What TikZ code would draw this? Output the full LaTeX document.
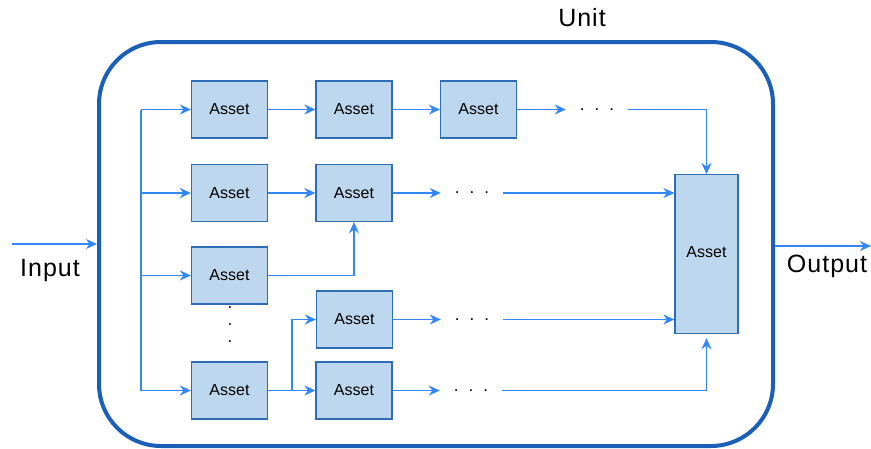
\documentclass[tikz,border=0pt]{standalone}
\usepackage{fontspec}
\setmainfont{Liberation Sans}
\usetikzlibrary{arrows.meta}
\definecolor{boxfill}{HTML}{BDD7EE}
\definecolor{boxline}{HTML}{2E6DB4}
\definecolor{conncol}{HTML}{3388F5}
\definecolor{unitcol}{HTML}{1B5FB8}
\tikzset{
  asset/.style={draw=boxline, fill=boxfill, line width=1.2pt, minimum width=76pt, minimum height=57pt, inner sep=0pt, font=\fontsize{16}{19}\selectfont},
  conn/.style={draw=conncol, line width=1.4pt},
  arr/.style={conn, -{Stealth[length=11pt, width=10pt, inset=3.5pt]}},
  dotsnode/.style={minimum width=62pt, inner sep=0pt, font=\fontsize{17}{19}\selectfont},
  biglabel/.style={font=\fontsize{25}{29}\selectfont\addfontfeature{LetterSpace=4}}
}
\begin{document}
\begin{tikzpicture}[x=1pt, y=-1pt]
\useasboundingbox (0,0) rectangle (871,448);
% unit
\node[draw=unitcol, line width=4pt, rounded corners=62pt, minimum width=674pt, minimum height=404pt, inner sep=0pt] (unit) at (436,244) {};
\node[biglabel] (unitlbl) at (582,18) {Unit};
% assets
\node[asset] (A11) at (229.5,109.5) {Asset};
\node[asset] (A12) at (354,109.5) {Asset};
\node[asset] (A13) at (478.5,109.5) {Asset};
\node[asset] (A21) at (229.5,193) {Asset};
\node[asset] (A22) at (354,193) {Asset};
\node[asset] (A31) at (229.5,275.5) {Asset};
\node[asset] (A41) at (354.5,319.5) {Asset};
\node[asset] (A51) at (229.5,390.5) {Asset};
\node[asset] (A52) at (354,390.5) {Asset};
\node[asset, minimum width=63pt, minimum height=159pt, anchor=north] (B) at (706.5,174) {};
\node[font=\fontsize{16}{19}\selectfont] (Blbl) at (706.5,252) {Asset};
% dots
\node[dotsnode] (d1) at (597,109.5) {.\hspace{10pt}.\hspace{10pt}.};
\node[dotsnode] (d2) at (472,193) {.\hspace{10pt}.\hspace{10pt}.};
\node[dotsnode] (d4) at (472,319.5) {.\hspace{10pt}.\hspace{10pt}.};
\node[dotsnode] (d5) at (471,390.5) {.\hspace{10pt}.\hspace{10pt}.};
\node[font=\fontsize{17}{17}\selectfont, align=center, inner sep=0pt] (vd) at (230,325) {.\\.\\.};
% input / output
\coordinate (inS) at (12,244);
\node[biglabel] (inlbl) at (50,270) {Input};
\coordinate (outE) at (871,246);
\node[biglabel] (outlbl) at (827,266) {Output};
\draw[arr] (inS) -- (unit.west);
\draw[arr] (unit.east |- outE) -- (outE);
% trunk
\coordinate (tr) at (141,0);
\draw[conn] (A11.west -| tr) -- (A51.west -| tr);
\draw[arr] (A11.west -| tr) -- (A11.west);
\draw[arr] (A21.west -| tr) -- (A21.west);
\draw[arr] (A31.west -| tr) -- (A31.west);
\draw[arr] (A51.west -| tr) -- (A51.west);
% row 1
\draw[arr] (A11) -- (A12);
\draw[arr] (A12) -- (A13);
\draw[arr] (A13) -- (d1.west);
\draw[arr] (d1.east) -| (B.north);
% row 2
\draw[arr] (A21) -- (A22);
\draw[arr] (A22) -- (d2.west);
\draw[arr] (d2.east) -- (d2.east -| B.west);
% row 3
\draw[arr] (A31.east) -| (A22.south);
% rows 4/5
\coordinate (sp) at (292,0);
\draw[arr] (A51) -- (A52);
\draw[arr] (A51.east -| sp) |- (A41.west);
\draw[arr] (A41) -- (d4.west);
\draw[arr] (d4.east) -- (d4.east -| B.west);
\draw[arr] (A52) -- (d5.west);
\draw[arr, shorten >=4pt] (d5.east) -| (B.south);
\end{tikzpicture}
\end{document}
